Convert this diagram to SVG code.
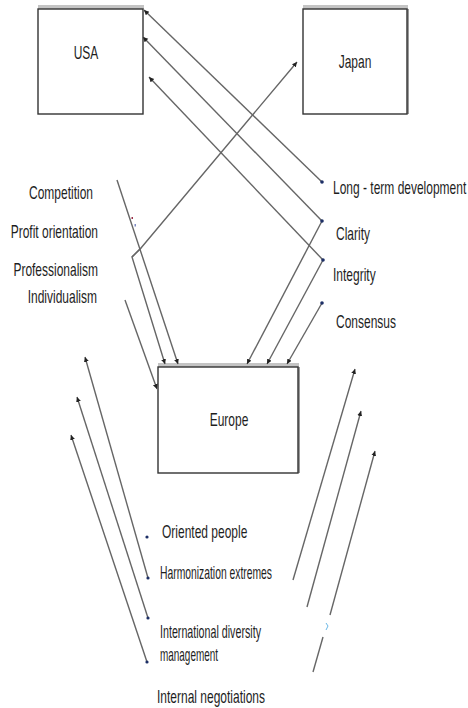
<svg xmlns="http://www.w3.org/2000/svg" width="468" height="708" viewBox="0 0 468 708">
<defs>
<style>
.box{fill:#fff;stroke:#333;stroke-width:1.4}
.band{fill:#c4c4c4}
.side{fill:#9a9a9a}
.ln{fill:none;stroke:#666;stroke-width:1.4}
.t{font-family:"Liberation Sans",Arial,sans-serif;font-size:12px;fill:#1e1e1e}
.dot{fill:#1d2f66}
</style>
<marker id="ah" markerUnits="userSpaceOnUse" markerWidth="6" markerHeight="6" refX="5" refY="2.5" orient="auto">
<path d="M0,0 L5,2.5 L0,5 z" fill="#222"/>
</marker>
</defs>
<rect width="468" height="708" fill="#fff"/>

<g id="usa">
<rect class="band" x="38" y="5" width="106" height="4"/>
<rect class="box" x="38" y="9" width="105" height="105"/>
<text class="t" text-anchor="middle" transform="translate(86,59) scale(1,1.5)">USA</text>
</g>

<g id="japan">
<rect class="band" x="303" y="5" width="105" height="4"/>
<rect class="side" x="406" y="9" width="3" height="105"/>
<rect class="box" x="303" y="9" width="104" height="105"/>
<text class="t" text-anchor="middle" transform="translate(355,68) scale(1,1.5)">Japan</text>
</g>

<g id="europe">
<rect class="band" x="158" y="363" width="141" height="4"/>
<rect class="side" x="297" y="367" width="3" height="106"/>
<rect class="box" x="158" y="367" width="140" height="106"/>
<text class="t" text-anchor="middle" transform="translate(229,426) scale(1,1.5)">Europe</text>
</g>

<g id="labels-left">
<text class="t" text-anchor="end" transform="translate(93,199) scale(1,1.5)">Competition</text>
<text class="t" text-anchor="end" transform="translate(98,238) scale(1,1.5)">Profit orientation</text>
<text class="t" text-anchor="end" transform="translate(98,276) scale(1,1.5)">Professionalism</text>
<text class="t" text-anchor="end" transform="translate(97,303) scale(1,1.5)">Individualism</text>
</g>

<g id="labels-right">
<text class="t" transform="translate(333,194) scale(1,1.5)">Long - term development</text>
<text class="t" transform="translate(336,240) scale(1,1.5)">Clarity</text>
<text class="t" transform="translate(333,281) scale(1,1.5)">Integrity</text>
<text class="t" transform="translate(336,328) scale(1,1.5)">Consensus</text>
</g>

<g id="labels-bottom">
<text class="t" transform="translate(162,538) scale(1,1.5)">Oriented people</text>
<text class="t" textLength="112" lengthAdjust="spacingAndGlyphs" transform="translate(160,579) scale(1,1.5)">Harmonization extremes</text>
<text class="t" textLength="101" lengthAdjust="spacingAndGlyphs" transform="translate(160,638) scale(1,1.5)">International diversity</text>
<text class="t" textLength="58" lengthAdjust="spacingAndGlyphs" transform="translate(160,661) scale(1,1.5)">management</text>
<text class="t" transform="translate(157,703) scale(1,1.5)">Internal negotiations</text>
</g>

<g id="connectors">
<line class="ln" x1="322" y1="182" x2="144" y2="10" marker-end="url(#ah)"/>
<line class="ln" x1="322" y1="221" x2="143" y2="37" marker-end="url(#ah)"/>
<line class="ln" x1="323" y1="260" x2="149" y2="77" marker-end="url(#ah)"/>
<polyline class="ln" points="132,257 141,248 297,62" marker-end="url(#ah)"/>
<polyline class="ln" points="141,248 132,257 165,364" marker-end="url(#ah)"/>
<line class="ln" x1="117" y1="180" x2="178" y2="364" marker-end="url(#ah)"/>
<line class="ln" x1="125" y1="300" x2="157" y2="389" marker-end="url(#ah)"/>
<line class="ln" x1="322" y1="221" x2="247" y2="364" marker-end="url(#ah)"/>
<line class="ln" x1="323" y1="260" x2="267" y2="364" marker-end="url(#ah)"/>
<line class="ln" x1="322" y1="303" x2="287" y2="364" marker-end="url(#ah)"/>
<line class="ln" x1="148" y1="578" x2="85" y2="357" marker-end="url(#ah)"/>
<line class="ln" x1="148" y1="618" x2="77" y2="397" marker-end="url(#ah)"/>
<line class="ln" x1="147" y1="662" x2="71" y2="435" marker-end="url(#ah)"/>
<line class="ln" x1="293" y1="580" x2="355" y2="369" marker-end="url(#ah)"/>
<line class="ln" x1="307" y1="607" x2="361" y2="411" marker-end="url(#ah)"/>
<line class="ln" x1="313" y1="672" x2="323" y2="637"/>
<line class="ln" x1="330" y1="615" x2="375" y2="451" marker-end="url(#ah)"/>
</g>

<g id="bullets">
<circle class="dot" cx="322" cy="182" r="1.8"/>
<circle class="dot" cx="322" cy="221" r="1.8"/>
<circle class="dot" cx="323" cy="260" r="1.8"/>
<circle class="dot" cx="322" cy="303" r="1.8"/>
<circle class="dot" cx="147" cy="537" r="1.6"/>
<circle class="dot" cx="148" cy="578" r="1.6"/>
<circle class="dot" cx="148" cy="618" r="1.6"/>
<circle class="dot" cx="147" cy="662" r="1.6"/>
<rect x="131.5" y="217" width="1.5" height="2" fill="#9a3048"/>
<rect x="134.5" y="224" width="1.5" height="2.5" fill="#7f8cc4"/>
<path d="M326,623 L328,626 L326,630" fill="none" stroke="#6ab8e6" stroke-width="1"/>
</g>
</svg>
